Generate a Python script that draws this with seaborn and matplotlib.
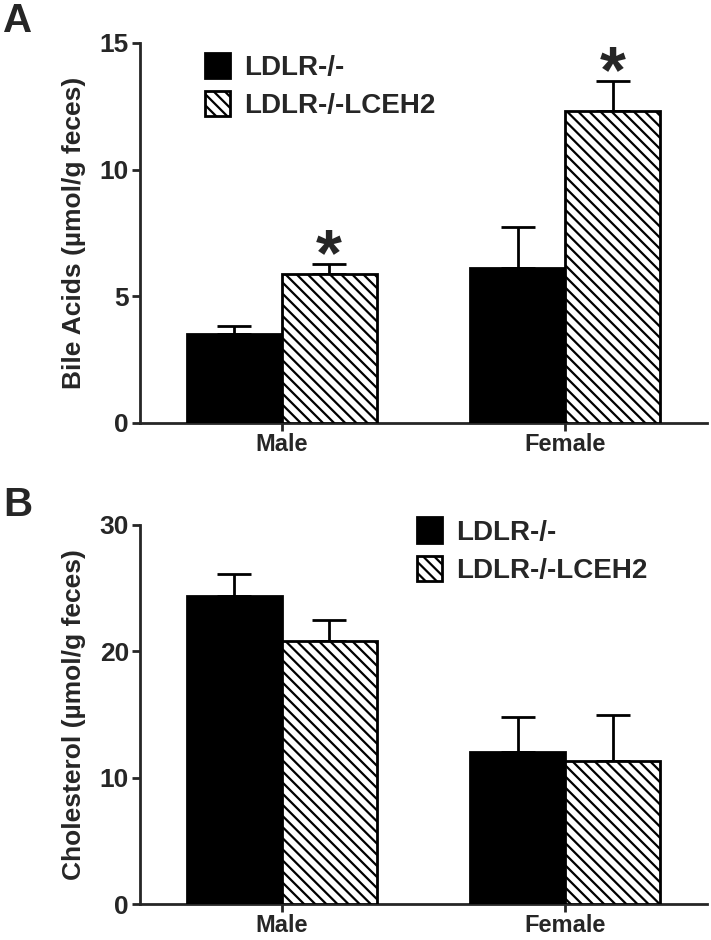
import matplotlib
matplotlib.use("Agg")
import matplotlib.pyplot as plt
import pandas as pd
import seaborn as sns

# data (mean and SEM, upper error only)
sexes = ["Male", "Female"]
groups = ["LDLR-/-", "LDLR-/-LCEH2"]

bile_ldlr = [3.5, 6.1]
bile_lceh2 = [5.9, 12.3]
bile_ldlr_sem = [0.32, 1.65]
bile_lceh2_sem = [0.38, 1.2]
bile_sig = [True, True]  # asterisk on LCEH2 bars

chol_ldlr = [24.4, 12.0]
chol_lceh2 = [20.8, 11.3]
chol_ldlr_sem = [1.75, 2.8]
chol_lceh2_sem = [1.7, 3.65]

sns.set_style("ticks")
plt.rcParams['font.family'] = ['Liberation Sans', 'DejaVu Sans']
plt.rcParams['font.weight'] = 'bold'
plt.rcParams['hatch.linewidth'] = 1.6
plt.rcParams['hatch.color'] = 'black'

fig = plt.figure(figsize=(7.11, 9.40), dpi=100)
W, H = 711.0, 940.0
axA = fig.add_axes([140 / W, 1 - 423 / H, 567 / W, 380 / H])
axB = fig.add_axes([140 / W, 1 - 904 / H, 567 / W, 379 / H])


def draw_panel(ax, v1, v2, e1, e2, ylabel, ymax, yticks, leg_anchor, stars=None):
    df = pd.DataFrame({
        "sex": sexes * 2,
        "group": [groups[0]] * 2 + [groups[1]] * 2,
        "value": v1 + v2,
    })
    sns.barplot(data=df, x="sex", y="value", hue="group", order=sexes, hue_order=groups,
                palette=["black", "white"], edgecolor="black", linewidth=2,
                width=0.67, errorbar=None, ax=ax, legend=False, zorder=3)
    bars = ax.patches
    errs = e1 + e2
    for i, p in enumerate(bars):
        if i >= 2:
            p.set_hatch("\\\\\\")
        x = p.get_x() + p.get_width() / 2
        h = p.get_height()
        ax.errorbar([x], [h], yerr=[[0], [errs[i]]], fmt="none", ecolor="black",
                    elinewidth=2, capsize=12, capthick=2, zorder=2)
    if stars is not None:
        for i, s in enumerate(stars):
            if s:
                p = bars[2 + i]
                x = p.get_x() + p.get_width() / 2
                ax.annotate("*", xy=(x, p.get_height() + errs[2 + i]), xytext=(0, -18),
                            textcoords="offset points", ha="center", va="bottom",
                            fontsize=48, fontweight="bold")
    ax.set_xlim(-0.5, 1.5)
    ax.set_ylim(0, ymax)
    ax.set_yticks(yticks)
    ax.set_xlabel("")
    ax.set_ylabel(ylabel, fontsize=19, fontweight="bold", labelpad=10)
    ax.tick_params(axis="y", labelsize=19, width=2, length=6, direction="out", pad=2)
    ax.tick_params(axis="x", labelsize=17, width=2, length=6, direction="out", pad=1)
    for lab in ax.get_xticklabels() + ax.get_yticklabels():
        lab.set_fontweight("bold")
    sns.despine(ax=ax)
    for sp in ["left", "bottom"]:
        ax.spines[sp].set_linewidth(2)
    ax.legend([bars[0], bars[2]], groups, loc="upper left", bbox_to_anchor=leg_anchor,
              frameon=False, fontsize=20, handlelength=0.9, handleheight=1.05,
              handletextpad=0.5, labelspacing=0.35, borderaxespad=0, borderpad=0)


draw_panel(axA, bile_ldlr, bile_lceh2, bile_ldlr_sem, bile_lceh2_sem,
           "Bile Acids (µmol/g feces)", 15, [0, 5, 10, 15], (0.115, 0.975), stars=bile_sig)
draw_panel(axB, chol_ldlr, chol_lceh2, chol_ldlr_sem, chol_lceh2_sem,
           "Cholesterol (µmol/g feces)", 30, [0, 10, 20, 30], (0.489, 1.02))

fig.text(3 / W, 1 - 2 / H, "A", fontsize=29, fontweight="bold", ha="left", va="top")
fig.text(3 / W, 1 - 486 / H, "B", fontsize=29, fontweight="bold", ha="left", va="top")

fig.savefig("out.png", dpi=100)
